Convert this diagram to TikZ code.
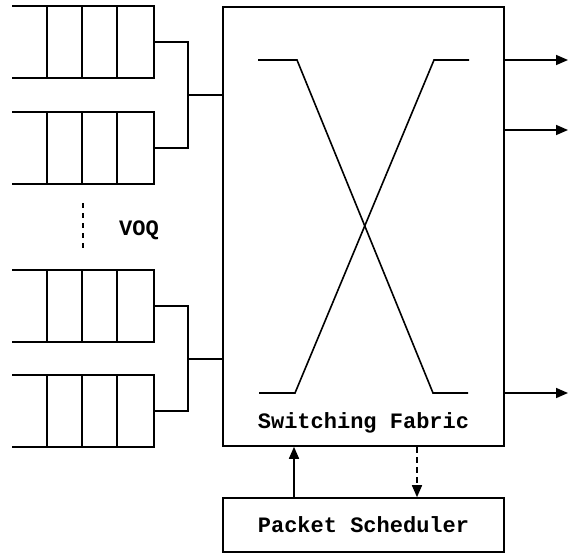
\documentclass[tikz,border=0pt]{standalone}
\usepackage{fontspec}
\setmonofont{Liberation Mono}
\usetikzlibrary{arrows.meta}

\begin{document}
\begin{tikzpicture}[x=1pt,y=-1pt,
  line width=1.6pt,
  queue/.style={minimum width=140pt,minimum height=70pt,inner sep=0pt},
  blk/.style={draw,inner sep=0pt},
  lbl/.style={font=\ttfamily\bfseries\fontsize{22}{26}\selectfont},
  arr/.style={-{Triangle[length=12pt,width=10pt]}}
]
\useasboundingbox (0,0) rectangle (569,554);
% input queues (VOQ)
\node[queue] (q1) at (83,42)  {};
\node[queue] (q2) at (83,148) {};
\node[queue] (q3) at (83,306) {};
\node[queue] (q4) at (83,411) {};
\foreach \q in {q1,q2,q3,q4} {
  \draw (\q.north west) -- (\q.north east) -- (\q.south east) -- (\q.south west);
  \foreach \s in {35,70,105}
    \draw ([xshift=\s pt]\q.north west) -- ([xshift=\s pt]\q.south west);
}
\draw[dash pattern=on 5pt off 5pt,shorten <=19pt,shorten >=21pt] (q2.south) -- (q3.north);
\node[lbl] (voq) at (139,230) {VOQ};
% fabric and scheduler
\node[blk,minimum width=281pt,minimum height=439pt] (fab) at (363.5,226.5) {};
\node[lbl] (fablbl) at (363.5,423) {Switching Fabric};
\node[blk,lbl,minimum width=281pt,minimum height=54pt] (sched) at (363.5,525) {Packet Scheduler};
% crossbar
\draw (258,60) -- (297,60) -- (433,393) -- (468,393);
\draw (469,60) -- (434,60) -- (295,393) -- (259,393);
% queue to fabric
\coordinate (j1) at (188,95);
\coordinate (j2) at (188,359);
\draw (q1.east) -| (j1) |- (q2.east);
\draw (q3.east) -| (j2) |- (q4.east);
\draw (j1) -- (fab.west |- j1);
\draw (j2) -- (fab.west |- j2);
% outputs
\foreach \y [count=\i] in {60,130,393} {
  \coordinate (out\i) at (568,\y);
  \draw[arr] (fab.east |- out\i) -- (out\i);
}
% scheduler links
\draw[arr] ([xshift=-69.5pt]sched.north) -- ([xshift=-69.5pt]fab.south);
\draw[arr,dash pattern=on 6pt off 4pt] ([xshift=53.5pt]fab.south) -- ([xshift=53.5pt]sched.north);
\end{tikzpicture}
\end{document}
